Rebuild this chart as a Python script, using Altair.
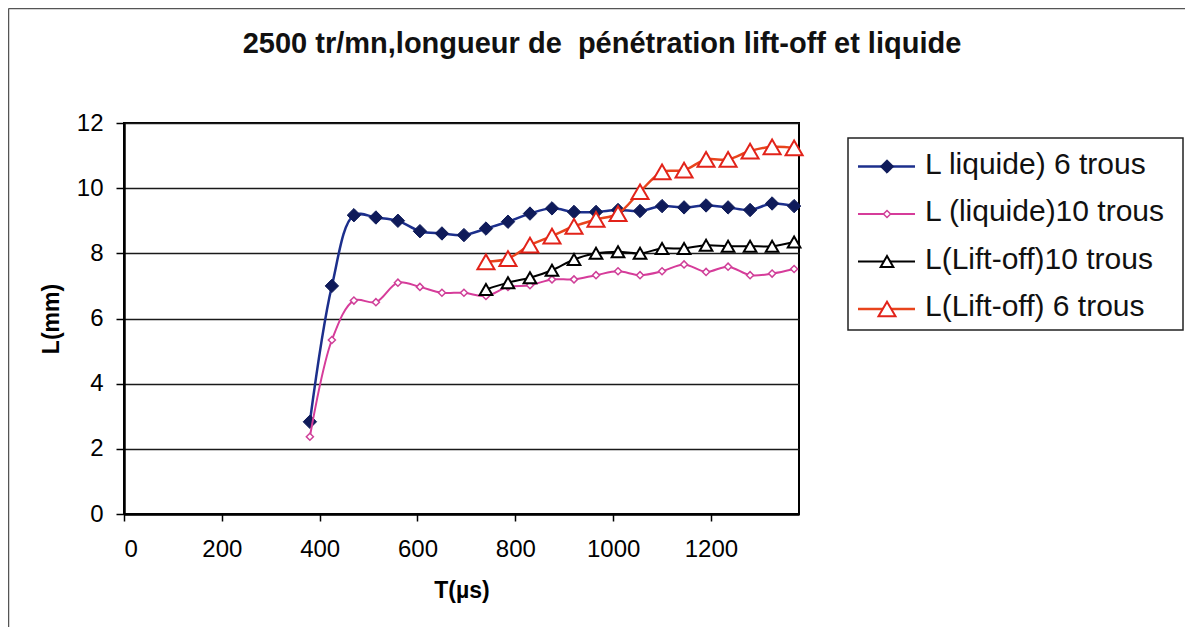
import altair as alt
import pandas as pd

# ---- data ----
T_LIQ = [380, 425, 470, 515, 560, 605, 650, 695, 740, 785, 830, 875, 920, 965,
         1010, 1055, 1100, 1145, 1190, 1235, 1280, 1325, 1370]
L_LIQ_6 = [2.83, 7.0, 9.17, 9.10, 9.0, 8.68, 8.61, 8.56, 8.76, 8.97, 9.22, 9.38,
           9.27, 9.27, 9.33, 9.30, 9.45, 9.41, 9.47, 9.41, 9.33, 9.53, 9.45]
L_LIQ_10 = [2.37, 5.34, 6.55, 6.50, 7.10, 6.97, 6.79, 6.79, 6.69, 6.97, 7.02, 7.20,
            7.20, 7.33, 7.45, 7.33, 7.45, 7.66, 7.43, 7.59, 7.33, 7.38, 7.52]
T_LIFT = [740, 785, 830, 875, 920, 965, 1010, 1055, 1100, 1145, 1190, 1235, 1280, 1325, 1370]
L_LIFT_10 = [6.89, 7.10, 7.25, 7.48, 7.81, 8.00, 8.05, 8.00, 8.15, 8.15, 8.25, 8.22, 8.22, 8.22, 8.35]
L_LIFT_6 = [7.74, 7.84, 8.25, 8.53, 8.83, 9.04, 9.22, 9.89, 10.50, 10.55, 10.88, 10.88, 11.14, 11.27, 11.24]

SERIES = ["L liquide) 6 trous", "L (liquide)10 trous", "L(Lift-off)10 trous", "L(Lift-off) 6 trous"]
TITLE = "2500 tr/mn,longueur de \u00a0pénétration lift-off et liquide"
X_TICKS = [0, 200, 400, 600, 800, 1000, 1200]
Y_TICKS = [0, 2, 4, 6, 8, 10, 12]

FONT = "Liberation Sans"
W, H = 675, 391

frames = [
    pd.DataFrame({"T": T_LIQ, "L": L_LIQ_6, "serie": SERIES[0]}),
    pd.DataFrame({"T": T_LIQ, "L": L_LIQ_10, "serie": SERIES[1]}),
    pd.DataFrame({"T": T_LIFT, "L": L_LIFT_10, "serie": SERIES[2]}),
    pd.DataFrame({"T": T_LIFT, "L": L_LIFT_6, "serie": SERIES[3]}),
]

# style per series: line color, line width, marker shape, marker fill, marker stroke, size
STYLE = [
    dict(line="#1c2f8c", lw=2.5, shape="diamond", fill="#0f1b5a", stroke="#0f1b5a", size=180, sw=1),
    dict(line="#d63c9a", lw=2.0, shape="diamond", fill="white", stroke="#cf3f98", size=50, sw=1.5),
    dict(line="#000000", lw=2.0, shape="triangle-up", fill="white", stroke="#000000", size=160, sw=2),
    dict(line="#e8441c", lw=2.5, shape="triangle-up", fill="white", stroke="#e2231a", size=290, sw=2),
]

x_enc = alt.X("T:Q", scale=alt.Scale(domain=[0, 1380], nice=False, zero=False),
              axis=alt.Axis(values=X_TICKS, format="d", title="T(µs)", grid=False,
                            labelFontSize=24, labelFont=FONT, labelColor="black",
                            labelPadding=16, tickSize=7, tickWidth=1.5, tickColor="black",
                            domainColor="black", domainWidth=2.5,
                            titleFont=FONT, titleFontSize=23, titleFontWeight="bold",
                            titleColor="black", titleX=W / 2, titleY=83,
                            titleBaseline="alphabetic", titleAlign="center"))
y_enc = alt.Y("L:Q", scale=alt.Scale(domain=[0, 12], nice=False),
              axis=alt.Axis(values=Y_TICKS, format="d", title="L(mm)", grid=True,
                            gridColor="#1a1a1a", gridWidth=1.5,
                            labelFontSize=24, labelFont=FONT, labelColor="black",
                            labelPadding=13, tickSize=8, tickWidth=1.5, tickColor="black",
                            domainColor="black", domainWidth=2.5,
                            titleFont=FONT, titleFontSize=23, titleFontWeight="bold",
                            titleColor="black", titleAngle=-90, titleX=-61, titleY=H / 2,
                            titleBaseline="bottom", titleAlign="center"))

layers = []
for df, st in zip(frames, STYLE):
    base = alt.Chart(df)
    layers.append(base.mark_line(interpolate="catmull-rom", color=st["line"],
                                 strokeWidth=st["lw"]).encode(x=x_enc, y=y_enc))
    layers.append(base.mark_point(shape=st["shape"], filled=True, fill=st["fill"],
                                  stroke=st["stroke"], strokeWidth=st["sw"], size=st["size"],
                                  opacity=1).encode(x=x_enc, y=y_enc))

one = pd.DataFrame({"k": [0]})

# outer frame of the figure (top & left edges)
frame_top = alt.Chart(one).mark_rule(color="#555555", strokeWidth=1.5).encode(
    x=alt.value(-115.5), x2=alt.value(W + 386), y=alt.value(-114.5))
frame_left = alt.Chart(one).mark_rule(color="#555555", strokeWidth=1.5).encode(
    x=alt.value(-115.5), y=alt.value(-114.5), y2=alt.value(H + 113))

# title
title_mark = alt.Chart(pd.DataFrame({"t": [TITLE]})).mark_text(
    font=FONT, fontSize=29, fontWeight="bold", color="#111111", align="center",
    baseline="alphabetic").encode(x=alt.value(478), y=alt.value(-70), text="t:N")

# legend box
legend_box = alt.Chart(one).mark_rect(fill="white", stroke="#222222", strokeWidth=1.5).encode(
    x=alt.value(724), x2=alt.value(1059), y=alt.value(15), y2=alt.value(207))

legend_layers = [frame_top, frame_left, title_mark, legend_box]
ROW_Y = [43.5, 91, 138.5, 186]
for name, st, ry in zip(SERIES, STYLE, ROW_Y):
    d = pd.DataFrame({"serie": [name]})
    c = alt.Chart(d)
    legend_layers.append(c.mark_rule(color=st["line"], strokeWidth=st["lw"]).encode(
        x=alt.value(734), x2=alt.value(791), y=alt.value(ry)))
    legend_layers.append(c.mark_point(shape=st["shape"], filled=True, fill=st["fill"],
                                      stroke=st["stroke"], strokeWidth=st["sw"],
                                      size=st["size"], opacity=1).encode(
        x=alt.value(763), y=alt.value(ry)))
    legend_layers.append(c.mark_text(font=FONT, fontSize=30, color="#111111", align="left",
                                     baseline="middle").encode(
        x=alt.value(801), y=alt.value(ry - 2), text="serie:N"))

chart = alt.layer(*legend_layers[:4], *layers, *legend_layers[4:]).properties(
    width=W, height=H,
    padding={"left": 116, "top": 115, "right": 387, "bottom": 114},
    autosize=alt.AutoSizeParams(type="none"),
    background="white",
).configure_view(stroke="black", strokeWidth=2)

chart.save("out.html", embed_options={"renderer": "svg", "actions": False})
